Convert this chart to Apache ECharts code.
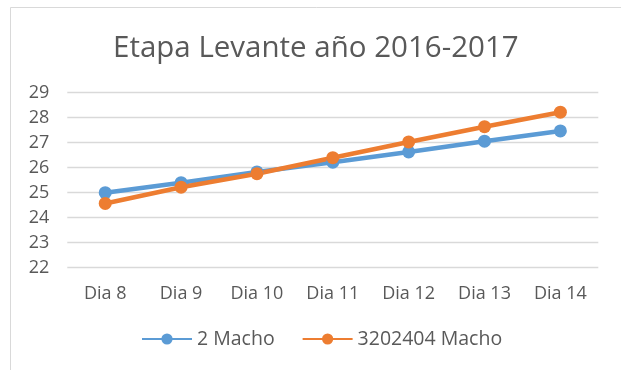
<!DOCTYPE html>
<html>
<head>
<meta charset="utf-8">
<script src="https://cdn.jsdelivr.net/npm/echarts@6/dist/echarts.min.js"></script>
<style>
  html, body { margin: 0; padding: 0; background: #ffffff; }
  #chart { width: 621px; height: 370px; }
</style>
</head>
<body>
<div id="chart"></div>
<script>
// Weights per day for the two animals
const days = ['Dia 8', 'Dia 9', 'Dia 10', 'Dia 11', 'Dia 12', 'Dia 13', 'Dia 14'];
const macho2 = [25.0, 25.4, 25.83, 26.22, 26.63, 27.06, 27.47];
const macho3202404 = [24.57, 25.22, 25.76, 26.4, 27.03, 27.64, 28.22];
const seriesNames = ['2 Macho', '3202404 Macho'];
const titleText = 'Etapa Levante año 2016-2017';

const FONT = '"Open Sans", "Noto Sans", sans-serif';
const TEXT = '#595959';
const BLUE = '#5B9BD5';
const ORANGE = '#ED7D31';

const chart = echarts.init(document.getElementById('chart'), null, { renderer: 'canvas' });

chart.setOption({
  animation: false,
  backgroundColor: '#ffffff',
  graphic: [{
    type: 'rect',
    shape: { x: 10.5, y: 7.5, width: 700, height: 500 },
    style: { fill: 'none', stroke: '#D9D9D9', lineWidth: 1 },
    silent: true,
    z: -10
  }],
  title: {
    text: titleText,
    left: 108,
    top: 29,
    textStyle: { fontFamily: FONT, fontSize: 29.5, fontWeight: 'normal', color: TEXT }
  },
  legend: {
    bottom: 16,
    left: 136,
    itemWidth: 50,
    itemHeight: 14,
    itemGap: 27,
    textStyle: { fontFamily: FONT, fontSize: 19.5, color: TEXT, padding: [0, 0, 0, 0] },
    data: seriesNames
  },
  grid: {
    left: 67.3,
    right: 621 - 598.3,
    top: 92.7,
    bottom: 370 - 267.7,
    containLabel: false
  },
  xAxis: {
    type: 'category',
    data: days,
    boundaryGap: true,
    axisLine: { show: false },
    axisTick: { show: false },
    axisLabel: { fontFamily: FONT, fontSize: 18, color: TEXT, margin: 17 }
  },
  yAxis: {
    type: 'value',
    min: 22,
    max: 29,
    interval: 1,
    axisLine: { show: false },
    axisTick: { show: false },
    splitLine: { lineStyle: { color: '#D9D9D9', width: 1.3 } },
    axisLabel: { fontFamily: FONT, fontSize: 18, color: TEXT, margin: 18 }
  },
  series: [
    {
      name: seriesNames[0],
      type: 'line',
      data: macho2,
      color: BLUE,
      symbol: 'circle',
      symbolSize: 13,
      lineStyle: { width: 4.5, color: BLUE },
      itemStyle: { color: BLUE }
    },
    {
      name: seriesNames[1],
      type: 'line',
      data: macho3202404,
      color: ORANGE,
      symbol: 'circle',
      symbolSize: 13,
      lineStyle: { width: 4.5, color: ORANGE },
      itemStyle: { color: ORANGE }
    }
  ]
});
</script>
</body>
</html>
